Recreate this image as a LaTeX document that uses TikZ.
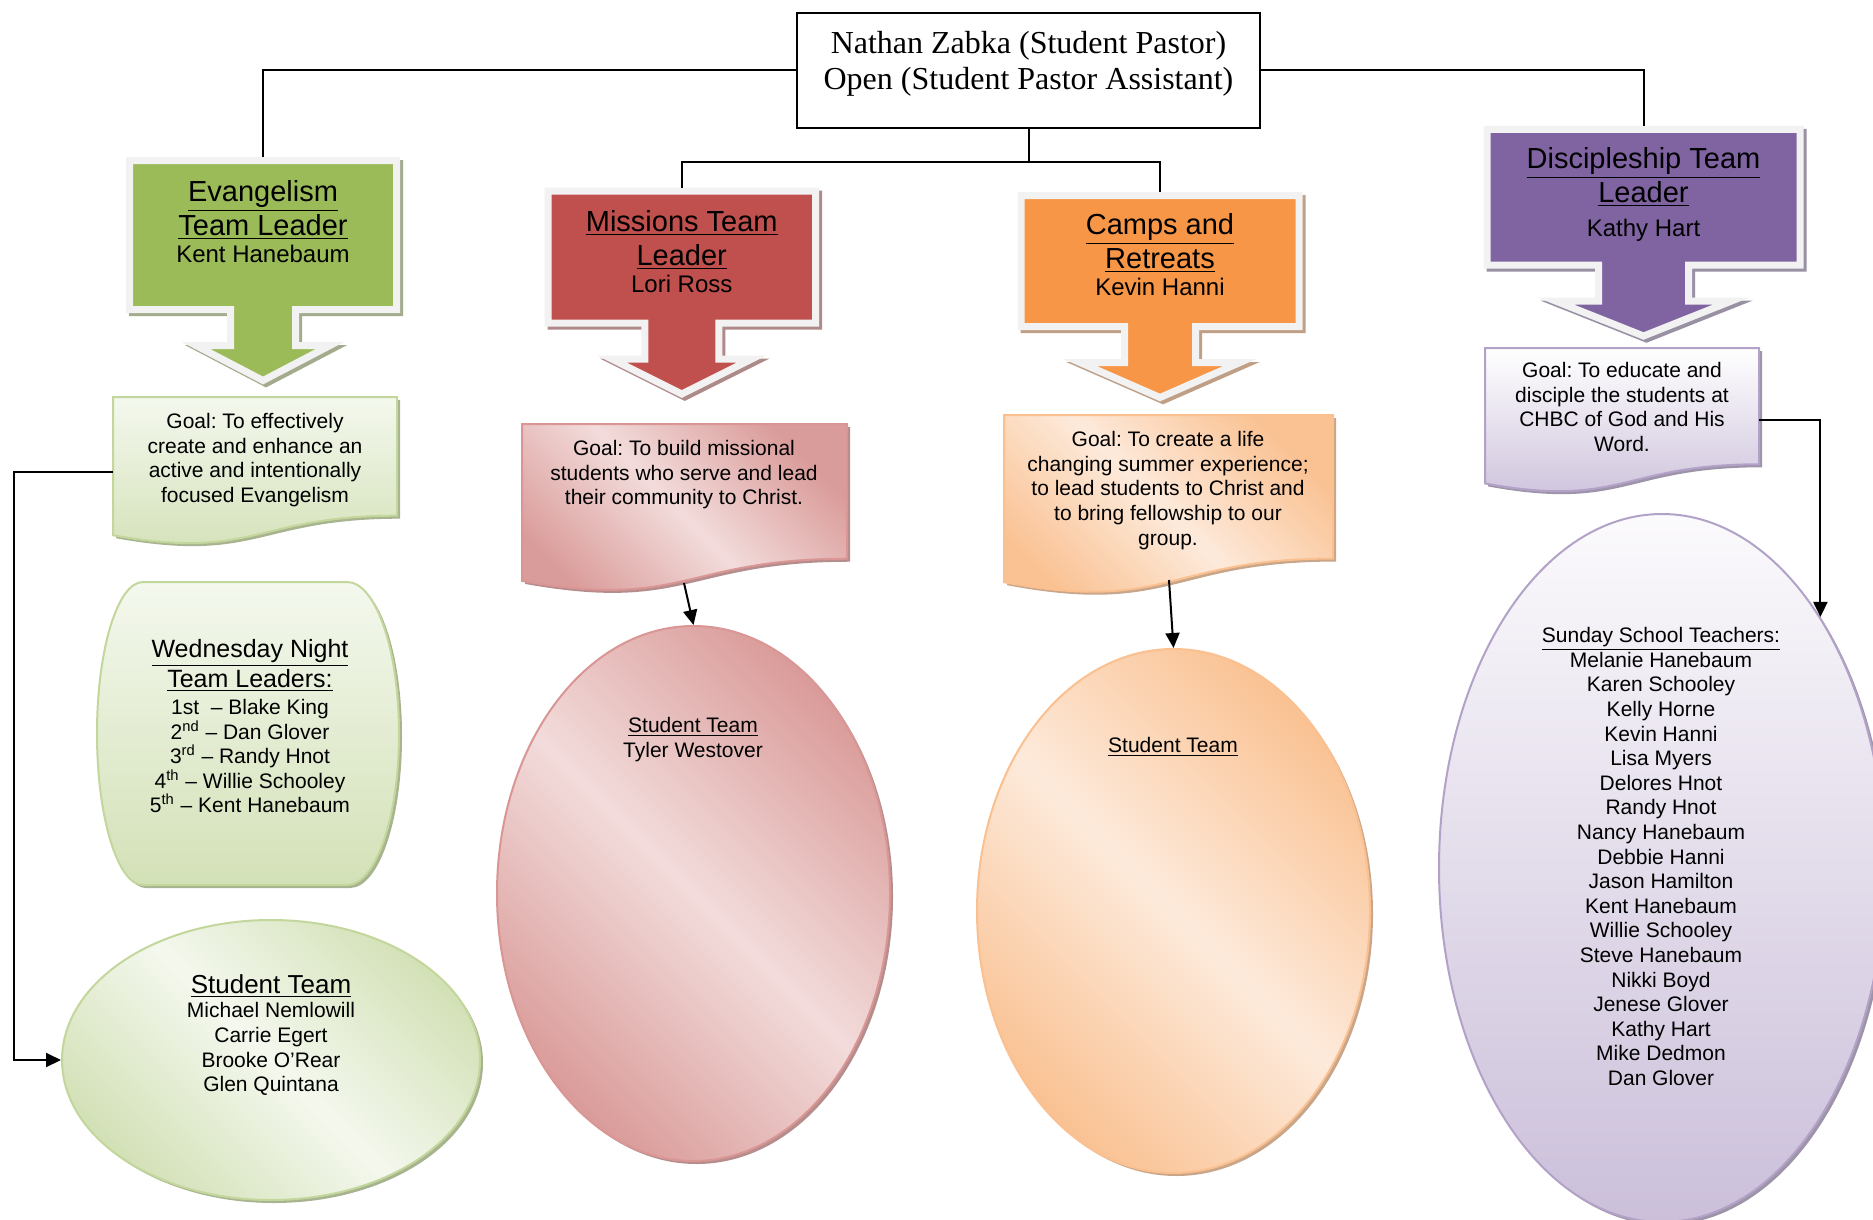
\documentclass[tikz,border=0pt]{standalone}
\usepackage{fontspec}
\setmainfont{Liberation Sans}
\newfontfamily\serifbox{Liberation Serif}
\usepackage{xcolor}
\usepackage{tikz}
\usetikzlibrary{arrows.meta,shapes.geometric,shadows}

\definecolor{frame}{HTML}{F2F2F2}
\definecolor{evlgreen}{HTML}{9BBB59}
\definecolor{evlline}{HTML}{C3D69B}
\definecolor{evllight}{HTML}{F4F8EE}
\definecolor{evldark}{HTML}{D3E1B7}
\definecolor{misred}{HTML}{C0504D}
\definecolor{misline}{HTML}{D99694}
\definecolor{mislight}{HTML}{F2DCDB}
\definecolor{misdark}{HTML}{DA9C9A}
\definecolor{campor}{HTML}{F79646}
\definecolor{campline}{HTML}{FAC090}
\definecolor{camplight}{HTML}{FDEADB}
\definecolor{campdark}{HTML}{FAC293}
\definecolor{discpur}{HTML}{8064A2}
\definecolor{discline}{HTML}{B3A2C7}
\definecolor{disclight}{HTML}{FBFAFC}
\definecolor{discdark}{HTML}{CBBFDA}

\newcommand{\headfont}{\fontsize{14.5}{17}\selectfont}
\newcommand{\namefont}{\fontsize{12}{14.5}\selectfont}
\newcommand{\bodyfont}{\fontsize{10.5}{12.3}\selectfont}
\newcommand{\wedfont}{\fontsize{12.5}{15}\selectfont}

% callout: name, centre x, top, width, height, shaft half width, head half width, colour
\newcommand{\callout}[8]{%
  \draw[callout=#8] ({#2-#4/2},#3) -- ({#2+#4/2},#3) -- ({#2+#4/2},{#3+#5})
    -- ({#2+#6},{#3+#5}) -- ({#2+#6},{#3+#5+36}) -- ({#2+#7},{#3+#5+36})
    -- (#2,{#3+#5+71}) -- ({#2-#7},{#3+#5+36}) -- ({#2-#6},{#3+#5+36})
    -- ({#2-#6},{#3+#5}) -- ({#2-#4/2},{#3+#5}) -- cycle;
  \coordinate (#1) at (#2,{#3-3.5});
}

% goal box with a wavy bottom: left, top, right, height
\newcommand{\goalpath}[4]{(#1,#2) -- (#3,#2) -- (#3,{#2+0.802*#4})
  .. controls ({(#1+#3)/2},{#2+0.802*#4}) and ({(#1+#3)/2},{#2+1.1075*#4}) .. (#1,{#2+0.934*#4}) -- cycle}

\frenchspacing

\begin{document}
\begin{tikzpicture}[x=0.5pt,y=-0.5pt,>={Triangle[length=7.5pt,width=7pt]},
  callout/.style={fill=#1, draw=frame, line width=3.5pt, line join=miter,
    drop shadow={shadow xshift=1.5pt, shadow yshift=-1.5pt, fill=#1!40!gray!80!white,
      draw=#1!40!gray!80!white, line width=3.5pt, opacity=1}},
  goalbox/.style={draw=#1, line width=1pt,
    drop shadow={shadow xshift=1.5pt, shadow yshift=-1.5pt, fill=#1!60!gray, opacity=1}},
  team/.style={ellipse, draw=#1, line width=1pt, inner sep=0pt,
    drop shadow={shadow xshift=1.5pt, shadow yshift=-1.5pt, fill=#1!60!gray, opacity=1}},
  boss/.style={draw, line width=1pt, minimum width=231.5pt, minimum height=57.5pt,
    align=center, font=\serifbox\fontsize{16}{18}\selectfont},
  headtext/.style={anchor=north, align=center, inner sep=0pt, font=\headfont},
  bodytext/.style={anchor=north, align=center, inner sep=0pt, font=\bodyfont},
  link/.style={line width=1pt, black}]

\path[use as bounding box, fill=white] (0,0) rectangle (1873,1220);

% Student pastor
\node[boss] (pastor) at (1028.5,70.5) {Nathan Zabka (Student Pastor)\\ Open (Student Pastor Assistant)\rule[-10pt]{0pt}{10pt}};

% Team leader callouts
\callout{evltop}{263}{160.5}{267}{149}{32.5}{67}{evlgreen}
\callout{mistop}{681.75}{191}{267.5}{132}{37}{70}{misred}
\callout{camptop}{1160}{195.5}{278}{131}{35.5}{80}{campor}
\callout{disctop}{1643.5}{129.5}{313}{135.5}{45}{88}{discpur}

% Goals
\draw[goalbox=evlline, top color=evllight, bottom color=evldark] \goalpath{113}{397}{397}{148};
\draw[goalbox=misline, left color=misdark, right color=misdark, middle color=mislight, shading angle=-45] \goalpath{522}{424}{847}{168};
\draw[goalbox=campline, left color=campdark, right color=campdark, middle color=camplight, shading angle=-45] \goalpath{1004}{415}{1333}{179};
\draw[goalbox=discline, top color=white, bottom color=discdark] \goalpath{1485}{348}{1759}{145};

% Wednesday night leaders
\draw[goalbox=evlline, top color=evllight, bottom color=evldark]
  (143,582) -- (347,582) .. controls (375.7,582) and (399,649.6) .. (399,733.5)
  .. controls (399,817.4) and (375.7,885) .. (347,885) -- (143,885)
  .. controls (117.6,885) and (97,817.4) .. (97,733.5)
  .. controls (97,649.6) and (117.6,582) .. (143,582) -- cycle;

% Student teams
\node[team=evlline, left color=evldark, right color=evldark, middle color=evllight, shading angle=-45,
  minimum width=209pt, minimum height=140pt] (stevl) at (271,1060) {};
\node[team=misline, left color=misdark, right color=misdark, middle color=mislight, shading angle=-45,
  minimum width=196.5pt, minimum height=267.5pt] (stmis) at (693.5,893.5) {};
\node[team=campline, left color=campdark, right color=campdark, middle color=camplight, shading angle=-45,
  minimum width=196.5pt, minimum height=262pt] (stcamp) at (1173.5,911) {};
\node[team=discline, top color=disclight, bottom color=discdark,
  minimum width=223pt, minimum height=354pt] (stdisc) at (1662,868) {};

% Texts
\node[headtext] (evlname) at (263,180) {\underline{Evangelism}\\ \underline{Team Leader}\\[-3.5pt] {\namefont Kent Hanebaum}};
\node[headtext] (misname) at (681.75,210) {\underline{Missions Team}\\ \underline{Leader}\\[-3.5pt] {\namefont Lori Ross}};
\node[headtext] (campname) at (1160,213) {\underline{Camps and}\\ \underline{Retreats}\\[-3.5pt] {\namefont Kevin Hanni}};
\node[headtext] (discname) at (1643.5,147) {\underline{Discipleship Team}\\ \underline{Leader}\\ {\namefont Kathy Hart}};

\node[bodytext] (evlgoal) at (255,413) {Goal: To effectively\\ create and enhance an\\ active and intentionally\\ focused Evangelism};
\node[bodytext] (misgoal) at (684,440) {Goal: To build missional\\ students who serve and lead\\ their community to Christ.};
\node[bodytext] (campgoal) at (1168,431) {Goal: To create a life\\ changing summer experience;\\ to lead students to Christ and\\ to bring fellowship to our\\ group.};
\node[bodytext] (discgoal) at (1622,362) {Goal: To educate and\\ disciple the students at\\ CHBC of God and His\\ Word.};

\node[bodytext, font=\wedfont] (wedlist) at (250,639) {\underline{Wednesday Night}\\ \underline{Team Leaders:}\\[-1.5pt]
  {\bodyfont 1st~ -- Blake King}\\[-2.7pt]
  {\bodyfont 2\textsuperscript{nd} -- Dan Glover}\\[-2.7pt]
  {\bodyfont 3\textsuperscript{rd} -- Randy Hnot}\\[-2.7pt]
  {\bodyfont 4\textsuperscript{th} -- Willie Schooley}\\[-2.7pt]
  {\bodyfont 5\textsuperscript{th} -- Kent Hanebaum}};

\node[bodytext] (evlteam) at (271,974) {{\fontsize{13}{15}\selectfont\underline{Student Team}}\\ Michael Nemlowill\\ Carrie Egert\\ Brooke O’Rear\\ Glen Quintana};
\node[bodytext] (misteam) at (693,717) {\underline{Student Team}\\ Tyler Westover};
\node[bodytext] (campteam) at (1173,737) {\underline{Student Team}};
\node[bodytext] (discteam) at (1661,627) {\underline{Sunday School Teachers:}\\ Melanie Hanebaum\\ Karen Schooley\\ Kelly Horne\\ Kevin Hanni\\ Lisa Myers\\ Delores Hnot\\ Randy Hnot\\ Nancy Hanebaum\\ Debbie Hanni\\ Jason Hamilton\\ Kent Hanebaum\\ Willie Schooley\\ Steve Hanebaum\\ Nikki Boyd\\ Jenese Glover\\ Kathy Hart\\ Mike Dedmon\\ Dan Glover};

% Connectors
\coordinate (evlleft) at (113,472);
\coordinate (misbot) at (684,583);
\coordinate (campbot) at (1169,580);
\coordinate (discright) at (1759,420);

\draw[link] (pastor.west) -| (evltop);
\draw[link] (pastor.east) -| (disctop);
\draw[link] (pastor.south) -- ++(0,33) -| (mistop);
\draw[link] (pastor.south) -- ++(0,33) -| (camptop);

\draw[link,->] (evlleft) -- ++(-99,0) |- (stevl.west);
\draw[link,->] (misbot) -- (stmis.north);
\draw[link,->] (campbot) -- (stcamp.north);
\draw[link,->] (discright) -| (stdisc.north east);

\end{tikzpicture}
\end{document}
